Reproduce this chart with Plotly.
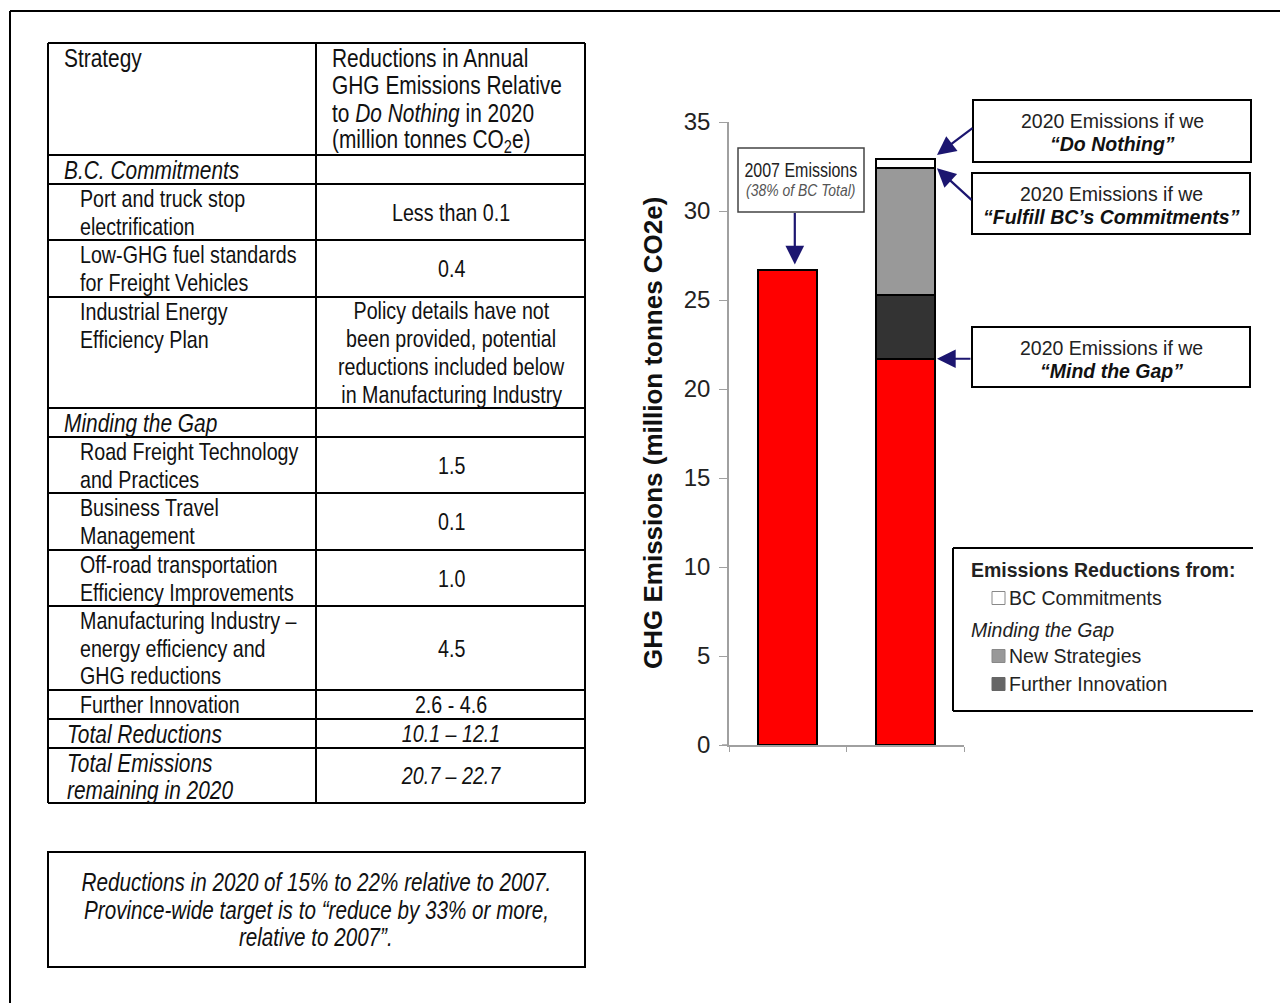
import plotly.graph_objects as go

# ---------------- data ----------------
years = ["2007", "2020"]
emissions_2007 = 26.7          # 2007 emissions (million t CO2e)
remaining_2020 = 21.7          # left after minding the gap
further_innovation = 3.6       # further innovation reductions
new_strategies = 7.1           # new strategies reductions
bc_commitments = 0.5           # BC commitments reductions

header_strategy = ["Strategy"]
header_reduction = ["Reductions in Annual", "GHG Emissions Relative",
                    "to <i>Do Nothing</i> in 2020", "(million tonnes CO<sub>2</sub>e)"]

bc_section = "B.C. Commitments"
bc_strategies = [["Port and truck stop", "electrification"],
                 ["Low-GHG fuel standards", "for Freight Vehicles"],
                 ["Industrial Energy", "Efficiency Plan"]]
bc_reductions = [["Less than 0.1"], ["0.4"],
                 ["Policy details have not", "been provided, potential",
                  "reductions included below", "in Manufacturing Industry"]]

gap_section = "Minding the Gap"
gap_strategies = [["Road Freight Technology", "and Practices"],
                  ["Business Travel", "Management"],
                  ["Off-road transportation", "Efficiency Improvements"],
                  ["Manufacturing Industry –", "energy efficiency and", "GHG reductions"],
                  ["Further Innovation"]]
gap_reductions = [["1.5"], ["0.1"], ["1.0"], ["4.5"], ["2.6 - 4.6"]]

total_labels = [["Total Reductions"], ["Total Emissions", "remaining in 2020"]]
total_values = [["10.1 – 12.1"], ["20.7 – 22.7"]]

summary_lines = ["Reductions in 2020 of 15% to 22% relative to 2007.",
                 "Province-wide target is to “reduce by 33% or more,",
                 "relative to 2007”."]

legend_title = "Emissions Reductions from:"
legend_group = "Minding the Gap"
legend_items = ["BC Commitments", "New Strategies", "Further Innovation"]

callouts = ["“Do Nothing”", "“Fulfill BC’s Commitments”", "“Mind the Gap”"]

# ---------------- layout helpers ----------------
W, H = 1280, 1003
L, R, T, B = 729, 316, 122, 258
PW, PH = W - L - R, H - T - B

# "Narrow" text is drawn in Liberation Sans and squeezed horizontally after render
NARROW = "Liberation Sans Narrow, Liberation Sans, Arial, sans-serif"
SANS = "Liberation Sans, Arial, sans-serif"
RED = "#ff0000"
NAVY = "#1c1670"
AXIS_GREY = "#a0a0a0"


def X(p):
    return (p - L) / PW


def Y(p):
    return (H - B - p) / PH


shapes = []
annotations = []


def hline(x0, x1, y, color="black", width=2):
    shapes.append(dict(type="line", xref="paper", yref="paper", x0=X(x0), x1=X(x1),
                       y0=Y(y), y1=Y(y), line=dict(color=color, width=width)))


def vline(x, y0, y1, color="black", width=2):
    shapes.append(dict(type="line", xref="paper", yref="paper", x0=X(x), x1=X(x),
                       y0=Y(y0), y1=Y(y1), line=dict(color=color, width=width)))


def box(x0, y0, x1, y1, color="black", width=2, fill="white"):
    shapes.append(dict(type="rect", xref="paper", yref="paper", x0=X(x0), x1=X(x1),
                       y0=Y(y0), y1=Y(y1), line=dict(color=color, width=width),
                       fillcolor=fill, layer="below"))


def text(x, y, s, size, family=NARROW, anchor="left", color="#111", angle=0):
    annotations.append(dict(xref="paper", yref="paper", x=X(x), y=Y(y), text=s,
                            showarrow=False, xanchor=anchor, yanchor="middle",
                            align=anchor, textangle=angle, borderpad=0,
                            font=dict(family=family, size=size, color=color)))


# ---------------- outer frame ----------------
hline(10, 1280, 11)
vline(10, 11, 1003)

# ---------------- strategy table ----------------
TL, TR, TC = 48, 585, 316
row_edges = [43, 155, 184, 240, 297, 408, 437, 493, 550, 606, 690, 719, 748, 803]
PITCH = 27.7
FS_HEAD = 25.5   # headers, section and total labels
FS_BODY = 24     # strategy items and values

rows = [("header", header_strategy, header_reduction),
        ("section", [bc_section], [])]
rows += [("item", s, v) for s, v in zip(bc_strategies, bc_reductions)]
rows += [("section", [gap_section], [])]
rows += [("item", s, v) for s, v in zip(gap_strategies, gap_reductions)]
rows += [("total", s, v) for s, v in zip(total_labels, total_values)]

for y in row_edges:
    hline(TL, TR, y)
vline(TL, row_edges[0], row_edges[-1])
vline(TR, row_edges[0], row_edges[-1])
vline(TC, row_edges[0], row_edges[-1])

for i, (kind, left, right) in enumerate(rows):
    top, bot = row_edges[i], row_edges[i + 1]
    lx = {"header": 63, "section": 63, "item": 79, "total": 66}[kind]
    lsize = FS_BODY if kind == "item" else FS_HEAD
    for j, s in enumerate(left):
        if kind in ("section", "total"):
            s = "<i>" + s + "</i>"
        text(lx, top + 14.5 + j * PITCH, s, lsize)
    if kind == "header":
        for j, s in enumerate(right):
            text(331, top + 14.5 + j * PITCH, s, FS_HEAD)
    else:
        mid = (top + bot) / 2
        n = len(right)
        for j, s in enumerate(right):
            if kind == "total":
                s = "<i>" + s + "</i>"
            text(451, mid + (j - (n - 1) / 2) * PITCH, s, FS_BODY, anchor="center")

# ---------------- summary box ----------------
box(48, 852, 585, 967)
for j, s in enumerate(summary_lines):
    text(316, 882 + j * PITCH, "<i>" + s + "</i>", 25.2, anchor="center")

# ---------------- chart callouts ----------------
box(738, 148, 864, 212, color="#444", width=1.5)
text(801, 170, "2007 Emissions", 19.5, anchor="center", color="#222")
text(801, 191, "<i>(38% of BC Total)</i>", 17, anchor="center", color="#555")

callout_boxes = [(973, 100, 1251, 162), (972, 173, 1250, 234), (972, 327, 1250, 387)]
for (x0, y0, x1, y1), label in zip(callout_boxes, callouts):
    box(x0, y0, x1, y1)
    cx = (x0 + x1) / 2
    text(cx, y0 + 21, "2020 Emissions if we", 19.5, family=SANS, anchor="center", color="#222")
    text(cx, y0 + 44, "<b><i>" + label + "</i></b>", 19.5, family=SANS, anchor="center")

# legend panel (open on the right)
hline(953, 1253, 548)
hline(953, 1253, 711)
vline(953, 548, 711)
text(970, 570, "<b>" + legend_title + "</b>", 19.5, family=SANS, color="#222")
legend_rows = [(598, "white", "#888"), (656, "#999999", "#888"), (684, "#666666", "#666")]
text(970, 630, "<i>" + legend_group + "</i>", 19.5, family=SANS, color="#222")
for (yy, fill, edge), label in zip(legend_rows, legend_items):
    box(992, yy - 6.5, 1005, yy + 6.5, color=edge, width=1, fill=fill)
    text(1008, yy, label, 19.5, family=SANS, color="#222")

# y axis title
text(653, 433, "<b>GHG Emissions (million tonnes CO2e)</b>", 26, family=SANS,
     anchor="center", angle=-90)

# short stub of the category axis left of the value axis
hline(722, 729, 745, color=AXIS_GREY, width=1.5)

# ---------------- bars ----------------
do_nothing = remaining_2020 + further_innovation + new_strategies + bc_commitments
edge = dict(color="black", width=2)
fig = go.Figure()
fig.add_bar(x=[years[0]], y=[emissions_2007], marker=dict(color=RED, line=edge))
fig.add_bar(x=[years[1]], y=[remaining_2020], marker=dict(color=RED, line=edge))
fig.add_bar(x=[years[1]], y=[further_innovation], marker=dict(color="#333333", line=edge))
fig.add_bar(x=[years[1]], y=[new_strategies], marker=dict(color="#999999", line=edge))
fig.add_bar(x=[years[1]], y=[bc_commitments], marker=dict(color="white", line=edge))

arrow = dict(showarrow=True, arrowhead=2, arrowsize=1.7, arrowwidth=2.2,
             arrowcolor=NAVY, text="", xref="x", yref="y", standoff=0)
annotations += [
    dict(arrow, x=0.06, y=emissions_2007 + 0.3, ax=0, ay=-53),
    dict(arrow, x=1.27, y=do_nothing + 0.25, ax=37, ay=-28),
    dict(arrow, x=1.27, y=do_nothing - bc_commitments, ax=36, ay=33),
    dict(arrow, x=1.27, y=remaining_2020, ax=35, ay=0),
]

fig.update_layout(
    width=W, height=H, autosize=False,
    margin=dict(l=L, r=R, t=T, b=B, pad=0),
    paper_bgcolor="white", plot_bgcolor="white",
    barmode="stack", bargap=0.5, showlegend=False,
    shapes=shapes, annotations=annotations,
    xaxis=dict(type="category", tickson="boundaries", ticks="outside", ticklen=5,
               tickcolor=AXIS_GREY, showline=True, linecolor=AXIS_GREY, linewidth=1.5,
               showticklabels=False, showgrid=False, zeroline=False,
               range=[-0.5, 1.5]),
    yaxis=dict(range=[0, 35], tickvals=list(range(0, 36, 5)), ticks="outside",
               ticklen=8, tickcolor=AXIS_GREY, showline=True, linecolor=AXIS_GREY,
               linewidth=1.5, showgrid=False, zeroline=False, ticklabelstandoff=4,
               tickfont=dict(family=SANS, size=24, color="#222")),
)

# squeeze the narrow-face annotations horizontally about their anchor point
squeeze = """
var gd = document.getElementById('{plot_id}');
gd.querySelectorAll('text.annotation-text').forEach(function (t) {
  var ff = t.style.fontFamily || t.getAttribute('style') || '';
  if (ff.indexOf('Narrow') < 0) { return; }
  var x = parseFloat(t.getAttribute('x')) || 0;
  t.setAttribute('transform',
    'translate(' + x + ',0) scale(0.82,1) translate(' + (-x) + ',0)');
});
"""

fig.write_html("out.html", post_script=squeeze)
